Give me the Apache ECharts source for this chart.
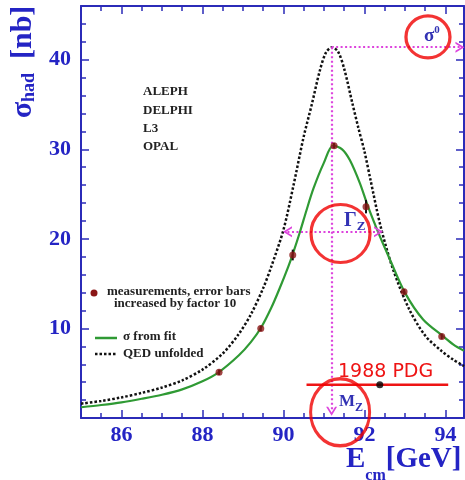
<!DOCTYPE html>
<html><head><meta charset="utf-8">
<script src="https://cdn.jsdelivr.net/npm/echarts@6/dist/echarts.min.js"></script>
<style>html,body{margin:0;padding:0;background:#fff}#c{width:465px;height:480px}</style>
</head><body><div id="c"></div>
<script>
// ---- data ----
const xMajorTicks = [86, 88, 90, 92, 94];
const experiments = ['ALEPH', 'DELPHI', 'L3', 'OPAL'];
const measE      = [88.41, 89.44, 90.23, 91.25, 92.04, 92.98, 93.91];
const measSigma  = [5.1, 10.0, 18.2, 30.4, 23.6, 14.1, 9.1];
const measErr10  = [0.3, 0.3, 0.6, 0.3, 0.75, 0.3, 0.3];
const fitE     = [85.0, 85.5, 86.0, 86.5, 87.0, 87.5, 88.0, 88.4, 88.9, 89.2, 89.45, 89.7, 89.9, 90.12, 90.23, 90.41, 90.57, 90.74, 90.99, 91.23, 91.45, 91.64, 91.89, 92.09, 92.38, 92.63, 93.0, 93.45, 93.95, 94.2, 94.46];
const fitSigma = [1.2, 1.45, 1.75, 2.15, 2.6, 3.2, 4.1, 5.1, 7.0, 8.5, 10.1, 12.3, 14.4, 16.9, 18.3, 20.8, 23.2, 25.6, 28.4, 30.4, 30.0, 28.8, 26.2, 23.6, 20.3, 17.7, 14.0, 11.0, 9.1, 8.2, 7.5];
const qedE     = [85.0, 85.5, 86.0, 86.5, 87.0, 87.5, 88.0, 88.5, 88.9, 89.2, 89.5, 89.7, 90.0, 90.25, 90.5, 90.7, 90.9, 91.05, 91.2, 91.35, 91.5, 91.7, 91.85, 92.0, 92.15, 92.4, 92.7, 93.1, 93.5, 93.9, 94.2, 94.46];
const qedSigma = [1.6, 1.9, 2.3, 2.8, 3.4, 4.2, 5.4, 7.2, 9.4, 11.6, 14.5, 16.9, 21.0, 26.0, 31.4, 35.0, 38.8, 40.8, 41.4, 40.9, 39.0, 35.2, 32.4, 29.8, 26.6, 21.4, 16.7, 12.2, 9.2, 7.5, 6.5, 5.8];
const sigma0 = 41.4, mZ = 91.19;
const gammaLow = 90.0, gammaHigh = 92.45, gammaLevel = 20.8;
const pdgE = [90.57, 94.07], pdgCentral = 92.38, pdgLevel = 3.7;
const circleCenters = [[93.57, 42.55], [91.41, 20.6], [91.40, 0.64]];
const circleSizes = [[44, 42], [59, 58], [59, 67]];

// ---- styles ----
const AX = '#2b2bb8', LAB = '#2424c4', MAG = '#dd44dd', LBL = '#3232b4';
const SERIF = '"Liberation Serif","DejaVu Serif",serif';
const chev = 'path://M0,10 L5,0 L10,10 L8.2,10 L5,3.6 L1.8,10 Z';
const X = [85, 94.46], Y = [0, 46];

function xAx(pos, major) {
  const a = {type:'value', min:X[0], max:X[1], position:pos, splitLine:{show:false},
    axisLine:{show:major, onZero:false, lineStyle:{color:AX, width:2}},
    axisTick:{show:true, inside:true, length: major?8:5, lineStyle:{color:AX, width:1.5}},
    axisLabel:{show:false}};
  if (major) { a.axisTick.customValues = xMajorTicks; } else { a.interval = 0.5; }
  if (major && pos === 'bottom') a.axisLabel = {show:true, customValues:xMajorTicks, color:LAB, fontFamily:SERIF, fontWeight:'bold', fontSize:22, margin:6};
  return a;
}
function yAx(pos, major) {
  const a = {type:'value', min:Y[0], max:Y[1], interval: major?10:2, position:pos, splitLine:{show:false},
    axisLine:{show:major, onZero:false, lineStyle:{color:AX, width:2}},
    axisTick:{show:true, inside:true, length: major?8:5, lineStyle:{color:AX, width:1.5}},
    axisLabel:{show:false}};
  if (major && pos === 'left') a.axisLabel = {show:true, color:LAB, fontFamily:SERIF, fontWeight:'bold', fontSize:22, margin:10, showMinLabel:false, showMaxLabel:false};
  return a;
}

const chart = echarts.init(document.getElementById('c'), null, {renderer:'canvas'});
const txt = (x, y, text, o) => Object.assign({type:'text', x, y, z:100, style:Object.assign({text, fill:'#222', font:'bold 13px ' + SERIF, verticalAlign:'middle'}, o || {})});
const B = (size, extra) => Object.assign({fontFamily:SERIF, fontWeight:'bold', fontSize:size, fill:LAB}, extra || {});
const C = (size, extra) => Object.assign({fontFamily:SERIF, fontWeight:'bold', fontSize:size, fill:LBL}, extra || {});

chart.setOption({
  animation:false,
  backgroundColor:'#fff',
  grid:{left:81, top:6, width:383, height:412},
  xAxis:[xAx('bottom', true), xAx('bottom', false), xAx('top', true), xAx('top', false)],
  yAxis:[yAx('left', true), yAx('left', false), yAx('right', true), yAx('right', false)],
  series:[
    {type:'line', name:'QED unfolded', data: qedE.map((e,i)=>[e, qedSigma[i]]), showSymbol:false, smooth:0.3, z:3,
     lineStyle:{color:'#111', width:2.5, type:[2.5,2]},
     markLine:{silent:true, symbol:'none', label:{show:false}, lineStyle:{color:MAG, width:2.2, type:[2,2.5]},
       data:[
         [{coord:[mZ, sigma0], symbol:'none'}, {coord:[mZ, 0.75], symbol:chev, symbolSize:[11,9]}],
         [{coord:[mZ, sigma0], symbol:'none'}, {coord:[X[1]-0.1, sigma0], symbol:chev, symbolSize:[11,9]}],
         [{coord:[gammaLow+0.1, gammaLevel], symbol:chev, symbolSize:[11,9]}, {coord:[gammaHigh-0.1, gammaLevel], symbol:chev, symbolSize:[11,9]}]
       ]}},
    {type:'line', name:'σ from fit', data: fitE.map((e,i)=>[e, fitSigma[i]]), showSymbol:false, smooth:0.3, z:4,
     lineStyle:{color:'#2f9a34', width:2.2}},
    {type:'custom', name:'errors', z:5,
     data: measE.map((e,i)=>[e, measSigma[i]-measErr10[i], measSigma[i]+measErr10[i]]),
     encode:{x:0, y:[1,2]},
     renderItem:(p, api)=>{ const lo = api.coord([api.value(0), api.value(1)]); const hi = api.coord([api.value(0), api.value(2)]);
       return {type:'line', shape:{x1:lo[0], y1:lo[1], x2:hi[0], y2:hi[1]}, style:{stroke:'#111', lineWidth:2}}; }},
    {type:'scatter', name:'measurements', data: measE.map((e,i)=>[e, measSigma[i]]), symbolSize:7, z:6,
     itemStyle:{color:'#8b1616'}},
    {type:'line', name:'1988 PDG', data: pdgE.map(e=>[e, pdgLevel]), showSymbol:false, z:7,
     lineStyle:{color:'#ee1414', width:2.5}},
    {type:'scatter', name:'PDG central', data:[[pdgCentral, pdgLevel]], symbolSize:7, z:8, itemStyle:{color:'#000'}},
    {type:'scatter', name:'circles', clip:false, z:9,
     data: circleCenters.map((c,i)=>({value:c, symbolSize:circleSizes[i]})),
     symbol:'circle', itemStyle:{color:'rgba(0,0,0,0)', borderColor:'#f00000', borderWidth:3.2}}
  ],
  graphic:[
    ...experiments.map((n,i)=>txt(143, 92 + i*18.3, n)),
    {type:'circle', shape:{cx:94, cy:293, r:3.5}, style:{fill:'#8b1616'}, z:100},
    txt(107, 292, 'measurements, error bars'),
    txt(114, 304, 'increased by factor 10'),
    {type:'line', shape:{x1:95, y1:338, x2:117, y2:338}, style:{stroke:'#2f9a34', lineWidth:2.5}, z:100},
    txt(123, 337, 'σ from fit'),
    {type:'line', shape:{x1:95, y1:354, x2:117, y2:354}, style:{stroke:'#111', lineWidth:2.5, lineDash:[2.5,2]}, z:100},
    txt(123, 354, 'QED unfolded'),
    {type:'text', x:23, y:62, rotation:Math.PI/2, z:100, style:{text:'{s|σ}{h|had}{b|[nb]}', align:'center', verticalAlign:'middle', fill:LAB,
      rich:{s:B(30), h:B(18, {padding:[12,0,0,0]}), b:B(30, {padding:[0,0,0,14]})}}},
    {type:'text', x:346, y:460, z:100, style:{text:'{e|E}{s|cm}{g|[GeV]}', verticalAlign:'middle', fill:LAB,
      rich:{e:B(29), s:B(16, {padding:[32,0,0,0]}), g:B(29)}}},
    {type:'text', x:424, y:36, z:100, style:{text:'{a|σ}{b|0}', verticalAlign:'middle', fill:LBL,
      rich:{a:C(19), b:C(11, {padding:[0,0,12,0]})}}},
    {type:'text', x:344, y:221, z:100, style:{text:'{a|Γ}{b|Z}', verticalAlign:'middle', fill:LBL,
      rich:{a:C(20), b:C(13, {padding:[12,0,0,0]})}}},
    {type:'text', x:339, y:402, z:100, style:{text:'{a|M}{b|Z}', verticalAlign:'middle', fill:LBL,
      rich:{a:C(17), b:C(12, {padding:[12,0,0,0]})}}},
    {type:'text', x:338, y:372, z:100, style:{text:'1988 PDG', fill:'#ee1414', font:'19px "DejaVu Sans",sans-serif', verticalAlign:'middle'}}
  ]
});
</script></body></html>
